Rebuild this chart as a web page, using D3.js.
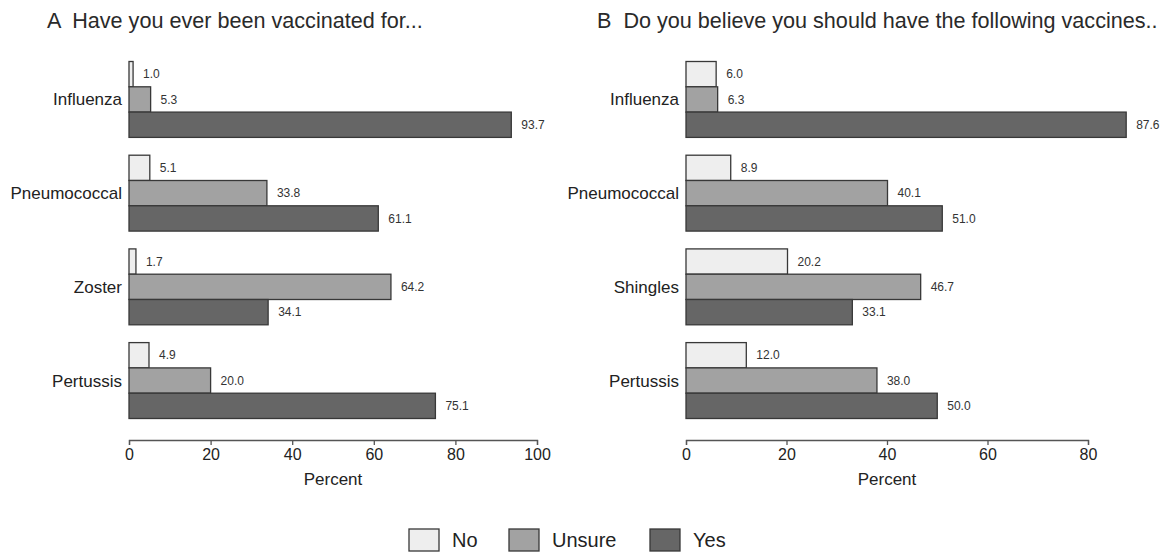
<!DOCTYPE html>
<html lang="en">
<head>
    <meta charset="UTF-8">
    <title>Vaccination survey</title>
    <style>
        body { margin: 0; background: #fff; }
        svg { font-family: "Liberation Sans", Arial, sans-serif; display: block; }
        .bar { stroke: #383838; stroke-width: 1.3px; }
        .val { font-size: 12px; fill: #333; }
        .cat { font-size: 17px; fill: #222; }
        .title { font-size: 21.6px; fill: #2a2a2a; white-space: pre; }
        .axis path, .axis line { stroke: #555; stroke-width: 1.3px; }
        .axis text { font-size: 16px; fill: #222; }
        .xlabel { font-size: 17px; fill: #222; }
        .legend text { font-size: 20px; fill: #222; }
    </style>
    <script src="https://d3js.org/d3.v7.min.js"></script>
</head>
<body>
    <svg width="1166" height="552"></svg>
    <script>
        // answers, in drawing order inside each group
        const answers = ["No", "Unsure", "Yes"];
        const colors = ["#eeeeee", "#a2a2a2", "#666666"];

        // panel A: ever vaccinated
        const catsA = ["Influenza", "Pneumococcal", "Zoster", "Pertussis"];
        const noA = [1.0, 5.1, 1.7, 4.9];
        const unsureA = [5.3, 33.8, 64.2, 20.0];
        const yesA = [93.7, 61.1, 34.1, 75.1];
        const ticksA = [0, 20, 40, 60, 80, 100];

        // panel B: should have
        const catsB = ["Influenza", "Pneumococcal", "Shingles", "Pertussis"];
        const noB = [6.0, 8.9, 20.2, 12.0];
        const unsureB = [6.3, 40.1, 46.7, 38.0];
        const yesB = [87.6, 51.0, 33.1, 50.0];
        const ticksB = [0, 20, 40, 60, 80];

        const svg = d3.select("svg");

        function panel(opts) {
            const { title, titleX, cats, series, ticks, x0, x1 } = opts;
            const g = svg.append("g");

            const x = d3.scaleLinear()
                .domain([0, ticks[ticks.length - 1]])
                .range([x0, x1]);

            const y = d3.scaleBand()
                .domain(cats)
                .range([61.5, 418.5])
                .paddingInner(0.19)
                .paddingOuter(0);

            const yInner = d3.scaleBand()
                .domain(answers)
                .range([0, y.bandwidth()]);

            g.append("text")
                .attr("class", "title")
                .attr("x", titleX)
                .attr("y", 28)
                .text(title);

            const rows = [];
            cats.forEach((c, i) => {
                answers.forEach((a, j) => {
                    rows.push({ cat: c, ans: a, k: j, value: series[j][i] });
                });
            });

            g.selectAll(".bar")
                .data(rows)
                .enter().append("rect")
                .attr("class", "bar")
                .attr("x", x(0))
                .attr("y", d => y(d.cat) + yInner(d.ans))
                .attr("width", d => x(d.value) - x(0))
                .attr("height", yInner.bandwidth())
                .attr("fill", d => colors[d.k]);

            g.selectAll(".val")
                .data(rows)
                .enter().append("text")
                .attr("class", "val")
                .attr("x", d => x(d.value) + 10)
                .attr("y", d => y(d.cat) + yInner(d.ans) + yInner.bandwidth() / 2)
                .attr("dy", "0.35em")
                .text(d => d.value.toFixed(1));

            g.selectAll(".cat")
                .data(cats)
                .enter().append("text")
                .attr("class", "cat")
                .attr("x", x(0) - 7)
                .attr("y", d => y(d) + y.bandwidth() / 2)
                .attr("dy", "0.35em")
                .attr("text-anchor", "end")
                .text(d => d);

            const axis = g.append("g")
                .attr("class", "axis")
                .attr("transform", "translate(0,440)")
                .call(d3.axisBottom(x).tickValues(ticks).tickSize(5).tickSizeOuter(5).tickPadding(4));
            axis.selectAll("text").attr("dy", "0.71em");

            g.append("text")
                .attr("class", "xlabel")
                .attr("x", (x0 + x1) / 2)
                .attr("y", 485)
                .attr("text-anchor", "middle")
                .text("Percent");
        }

        panel({
            title: "A  Have you ever been vaccinated for...",
            titleX: 47,
            cats: catsA,
            series: [noA, unsureA, yesA],
            ticks: ticksA,
            x0: 129, x1: 537
        });

        panel({
            title: "B  Do you believe you should have the following vaccines..",
            titleX: 597,
            cats: catsB,
            series: [noB, unsureB, yesB],
            ticks: ticksB,
            x0: 686, x1: 1088
        });

        // legend
        const legX = [409, 509, 650];
        const leg = svg.append("g").attr("class", "legend");
        answers.forEach((a, i) => {
            leg.append("rect")
                .attr("class", "bar")
                .attr("x", legX[i])
                .attr("y", 529)
                .attr("width", 30)
                .attr("height", 22)
                .attr("fill", colors[i]);
            leg.append("text")
                .attr("x", legX[i] + 43)
                .attr("y", 540)
                .attr("dy", "0.35em")
                .text(a);
        });
    </script>
</body>
</html>
